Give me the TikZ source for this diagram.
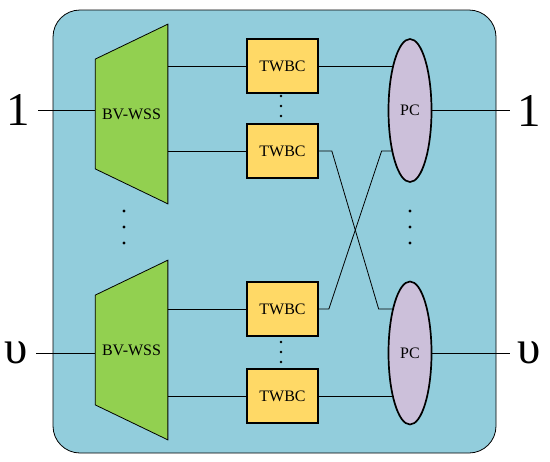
\documentclass[tikz,border=0pt]{standalone}
\usepackage{fontspec}
\setmainfont{Liberation Serif}
\usetikzlibrary{shapes.geometric,calc}

\pgfdeclarelayer{back}
\pgfdeclarelayer{wires}
\pgfsetlayers{back,wires,main}

\definecolor{boxblue}{HTML}{92CDDC}
\definecolor{wssgreen}{HTML}{92D050}
\definecolor{twbcyellow}{HTML}{FFD966}
\definecolor{pclilac}{HTML}{CCC0DA}

\begin{document}
\begin{tikzpicture}[x=0.5pt,y=-0.5pt,line width=0.85pt,
    small/.style={font=\fontsize{8}{10}\selectfont},
    wss/.style={small,minimum width=35.5pt,minimum height=54pt,inner sep=0pt},
    twbc/.style={small,draw,fill=twbcyellow,minimum width=35.5pt,minimum height=27pt,inner sep=0pt},
    pc/.style={small,ellipse,draw,fill=pclilac,minimum width=21.5pt,minimum height=71.5pt,inner sep=0pt},
    port/.style={inner sep=3.5pt,font=\fontsize{23.5}{28}\selectfont}]

    \useasboundingbox (0,0) rectangle (550,461);

    % switches, converters and couplers
    \node[wss] (w1) at (131.5,114) {BV-WSS};
    \node[wss] (w2) at (131.5,350) {BV-WSS};

    \node[twbc] (t1) at (282.5,66) {TWBC};
    \node[twbc] (t2) at (282.5,151) {TWBC};
    \node[twbc] (t3) at (282.5,309) {TWBC};
    \node[twbc] (t4) at (282.5,396) {TWBC};

    \node[pc] (p1) at (410,110.5) {PC};
    \node[pc] (p2) at (410,353) {PC};

    % ports
    \node[port,anchor=east] (in1) at (38,110) {1};
    \node[port,anchor=east] (in2) at (36,353) {υ};
    \node[port,anchor=west] (out1) at (510,110.5) {1};
    \node[port,anchor=west] (out2) at (510,353) {υ};

    \begin{pgfonlayer}{back}
        \draw[fill=boxblue,rounded corners=13.5pt] (53,10) rectangle (496,453);
        \foreach \w in {w1,w2}
            \draw[fill=wssgreen] (\w.north west) -- (\w.south west)
                -- ($(\w.south east)+(0,35)$) -- ($(\w.north east)+(0,-35)$) -- cycle;
    \end{pgfonlayer}

    \begin{pgfonlayer}{wires}
        \draw (in1.east) -- (in1.east -| w1.west);
        \draw (in2.east) -- (in2.east -| w2.west);
        \draw (t1 -| w1.east) -- (t1.west);
        \draw (t2 -| w1.east) -- (t2.west);
        \draw (t3 -| w2.east) -- (t3.west);
        \draw (t4 -| w2.east) -- (t4.west);
        \draw (t1.east) -- (t1 -| p1);
        \draw (t4.east) -- (t4 -| p2);
        % crossing
        \draw (t2.east) -- ++(13,0) -- ($(t3 -| p2.west)+(-9,0)$) -- (t3 -| p2);
        \draw (t3.east) -- ++(10,0) -- ($(t2 -| p1.west)+(-6,0)$) -- (t2 -| p1);
        \draw (p1.east) -- (p1.east -| out1.west);
        \draw (p2.east) -- (p2.east -| out2.west);
    \end{pgfonlayer}

    % dots
    \foreach \y in {211,227,243} {
        \fill (124,\y) circle (0.8pt);
        \fill (410,\y) circle (0.8pt);
    }
    \foreach \y in {96,106,116,342,352,362}
        \fill (281,\y) circle (0.65pt);

\end{tikzpicture}
\end{document}
